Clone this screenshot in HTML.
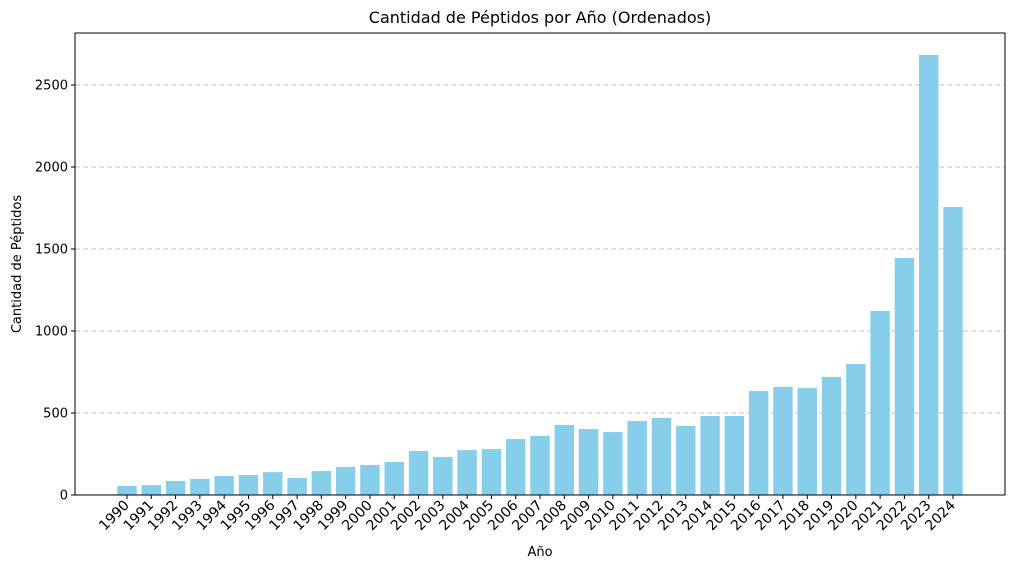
<!DOCTYPE html>
<html><head><meta charset="utf-8"><style>
body{margin:0;background:#fff;}
svg text{font-family:"DejaVu Sans","Liberation Sans",sans-serif;fill:#000;}
</style></head><body>
<svg id="chart" width="1014" height="569" xmlns="http://www.w3.org/2000/svg">
<text x="540" y="23" font-size="16" text-anchor="middle">Cantidad de Péptidos por Año (Ordenados)</text>
<g id="grid"></g><g id="bars"></g><g id="axes"></g>
<text x="540" y="556" font-size="13" text-anchor="middle">Año</text>
<text transform="translate(21,264) rotate(-90)" font-size="13" text-anchor="middle">Cantidad de Péptidos</text>
</svg>
<script>
const years=[1990,1991,1992,1993,1994,1995,1996,1997,1998,1999,2000,2001,2002,2003,2004,2005,2006,2007,2008,2009,2010,2011,2012,2013,2014,2015,2016,2017,2018,2019,2020,2021,2022,2023,2024];
const counts=[55,60,85,98,116,122,140,104,146,171,183,201,268,232,274,280,341,360,427,402,384,451,470,421,482,482,634,659,652,720,799,1122,1445,2683,1756];
const yTicks=[0,500,1000,1500,2000,2500];
const NS="http://www.w3.org/2000/svg";
const L=75,R=1005,T=33,B=495;
const n=years.length;
const xmin=-0.4-0.05*(n-1+0.8), xmax=n-1+0.4+0.05*(n-1+0.8);
const ymax=Math.max(...counts)*1.05;
const xs=i=>L+(i-xmin)/(xmax-xmin)*(R-L);
const ys=v=>B-v/ymax*(B-T);
function el(t,a,p){const e=document.createElementNS(NS,t);for(const k in a)e.setAttribute(k,a[k]);p.appendChild(e);return e;}
const grid=document.getElementById('grid'),bars=document.getElementById('bars'),axes=document.getElementById('axes');
yTicks.forEach(v=>{
  const y=ys(v);
  if(v>0){const g=el('line',{x1:L,x2:R,y1:y,y2:y,stroke:'#c4c4c4','stroke-width':1,'stroke-dasharray':'5,3'},grid);
  
  }
  const t=el('line',{x1:L-4,x2:L,y1:y,y2:y,stroke:'#000'},axes);
  
  
  const l=el('text',{x:L-7,y:y+4.5,'font-size':13,'text-anchor':'end'},axes);
  l.textContent=v;
  
  
});
counts.forEach((v,i)=>{
  const x=xs(i),w=0.8*(R-L)/(xmax-xmin);
  const r=el('rect',{x:x-w/2,y:ys(v),width:w,height:B-ys(v),fill:'#87ceeb'},bars);
  
  
  const t=el('line',{x1:x,x2:x,y1:B,y2:B+4,stroke:'#000'},axes);
  
  
  const l=el('text',{transform:`translate(${x+3},${B+11}) rotate(-45)`,'font-size':14,'text-anchor':'end'},axes);
  l.textContent=years[i];
  
  
});
const f=el('rect',{x:L,y:T,width:R-L,height:B-T,fill:'none',stroke:'#000','stroke-width':1},axes);


</script>
</body></html>
